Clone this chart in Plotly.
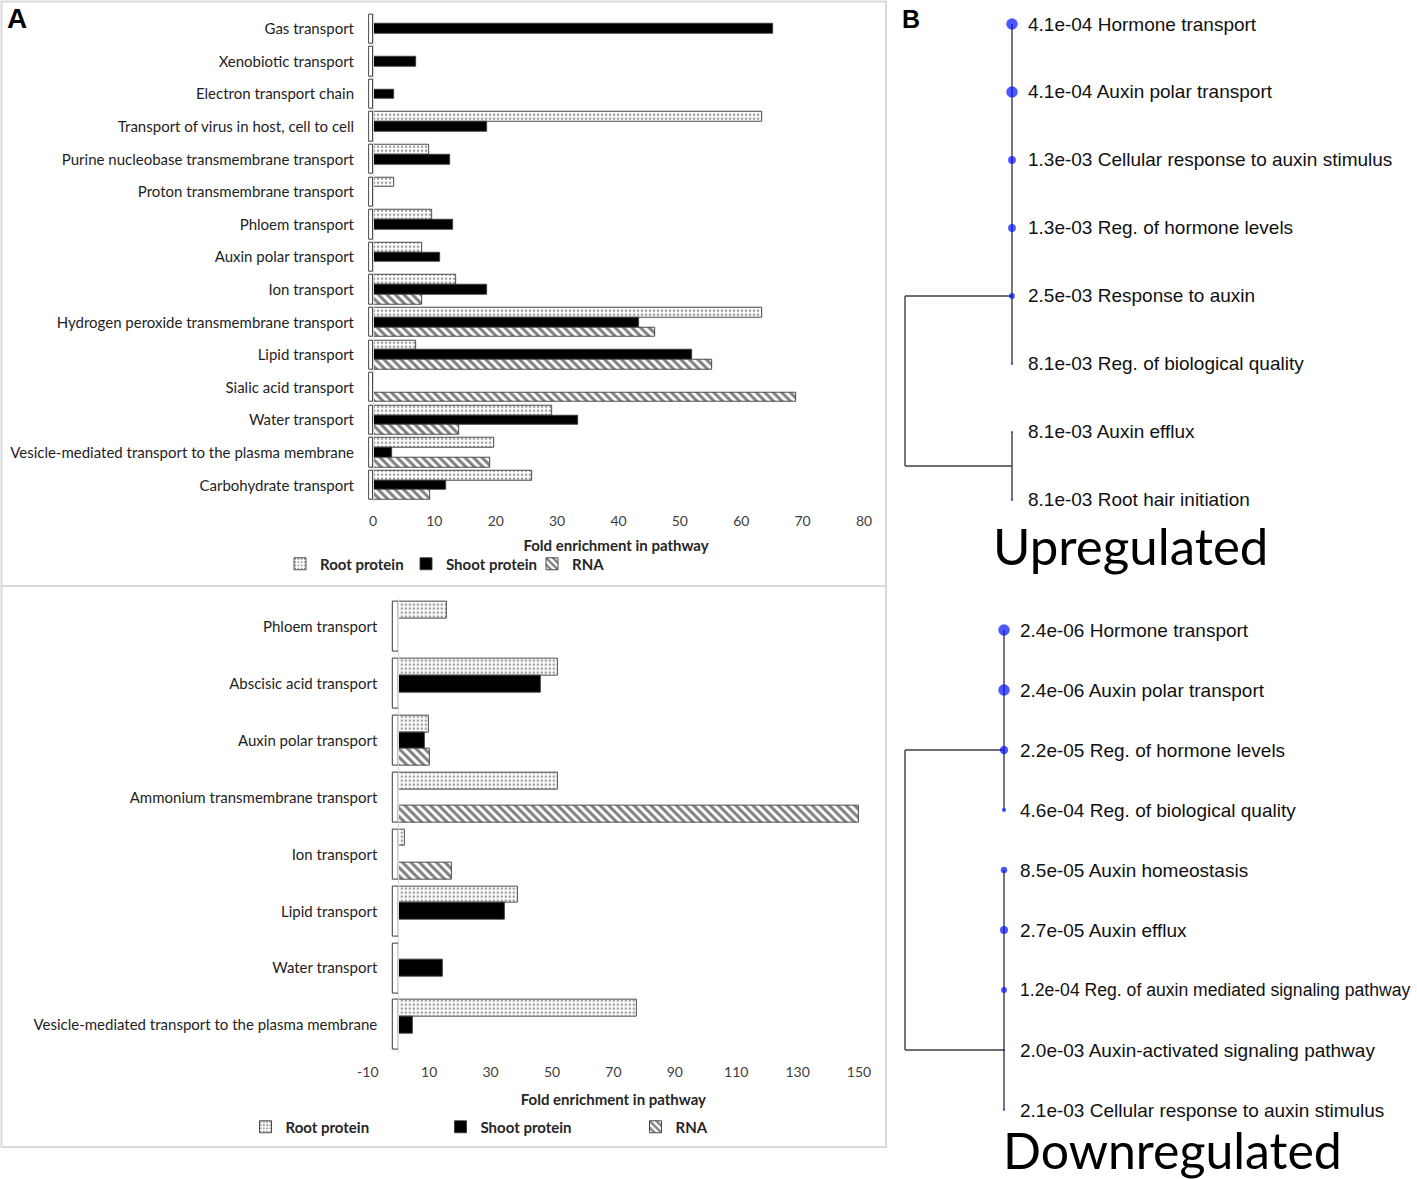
import math
import plotly.graph_objects as go

W, H = 1417, 1179

# ---------------- Panel A, upper chart ----------------
top_categories = [
    "Gas transport", "Xenobiotic transport", "Electron transport chain",
    "Transport of virus in host, cell to cell", "Purine nucleobase transmembrane transport",
    "Proton transmembrane transport", "Phloem transport", "Auxin polar transport",
    "Ion transport", "Hydrogen peroxide transmembrane transport", "Lipid transport",
    "Sialic acid transport", "Water transport",
    "Vesicle-mediated transport to the plasma membrane", "Carbohydrate transport",
]
top_root = [None, None, None, 63.4, 9.1, 3.5, 9.6, 8.0, 13.6, 63.4, 7.0, None, 29.2, 19.7, 26.0]
top_shoot = [65.2, 7.1, 3.4, 18.6, 12.5, None, 13.0, 11.0, 18.6, 43.4, 52.0, None, 33.4, 3.1, 11.9]
top_rna = [None, None, None, None, None, None, None, None, 8.0, 46.0, 55.2, 69.0, 14.1, 19.1, 9.3]
top_ticks = [0, 10, 20, 30, 40, 50, 60, 70, 80]
TOP_SPACER = -0.6  # small white outlined bar drawn left of zero in every category

# ---------------- Panel A, lower chart ----------------
bot_categories = [
    "Phloem transport", "Abscisic acid transport", "Auxin polar transport",
    "Ammonium transmembrane transport", "Ion transport", "Lipid transport",
    "Water transport", "Vesicle-mediated transport to the plasma membrane",
]
bot_root = [15.6, 51.8, 9.8, 51.8, 2.1, 39.0, None, 77.7]
bot_shoot = [None, 46.3, 8.7, None, None, 34.6, 14.3, 4.5]
bot_rna = [None, None, 10.1, 150.0, 17.3, None, None, None]
bot_ticks = [-10, 10, 30, 50, 70, 90, 110, 130, 150]
BOT_SPACER = -1.8

series_names = ["Root protein", "Shoot protein", "RNA"]

# ---------------- Panel B ----------------
up_terms = ["Hormone transport", "Auxin polar transport", "Cellular response to auxin stimulus",
            "Reg. of hormone levels", "Response to auxin", "Reg. of biological quality",
            "Auxin efflux", "Root hair initiation"]
up_pvals = [4.1e-4, 4.1e-4, 1.3e-3, 1.3e-3, 2.5e-3, 8.1e-3, 8.1e-3, 8.1e-3]
up_cluster = [0, 0, 0, 0, 0, 0, 1, 1]
up_join_rows = [4, 6.5]

down_terms = ["Hormone transport", "Auxin polar transport", "Reg. of hormone levels",
              "Reg. of biological quality", "Auxin homeostasis", "Auxin efflux",
              "Reg. of auxin mediated signaling pathway", "Auxin-activated signaling pathway",
              "Cellular response to auxin stimulus"]
down_pvals = [2.4e-6, 2.4e-6, 2.2e-5, 4.6e-4, 8.5e-5, 2.7e-5, 1.2e-4, 2.0e-3, 2.1e-3]
down_cluster = [0, 0, 0, 0, 1, 1, 1, 1, 1]
down_join_rows = [2, 7]

# ---------------- styles ----------------
FONT_A = "Lato, 'Open Sans', sans-serif"
FONT_B = "'Liberation Sans', Arial, sans-serif"
OUTLINE = dict(color="#3a3a3a", width=0.9)
styles = [
    dict(color="white", line=OUTLINE,
         pattern=dict(shape=".", fgcolor="#333333", bgcolor="white", size=4, solidity=0.3)),
    dict(color="black", line=OUTLINE),
    dict(color="white", line=OUTLINE,
         pattern=dict(shape="\\", fgcolor="black", bgcolor="white", size=6, solidity=0.5)),
]
LABEL_SIZE = 19
LONG_LABEL_SIZE = 17.6   # the one label that would run past the page edge
LABEL_MAXCHARS = 45


def px_x(p):
    return p / W


def px_y(p):
    return 1 - p / H


fig = go.Figure()


def add_bar_panel(cats, series, spacer, xa, ya, legend, offsets, width):
    n = len(cats)
    fig.add_trace(go.Bar(
        y=cats, x=[spacer] * n, orientation="h", xaxis=xa, yaxis=ya,
        offset=offsets[0], width=width * 3,
        marker=dict(color="white", line=dict(color="#3a3a3a", width=1)),
        showlegend=False, hoverinfo="skip"))
    for name, vals, st, off in zip(series_names, series, styles, offsets):
        fig.add_trace(go.Bar(
            y=cats, x=vals, name=name, orientation="h", xaxis=xa, yaxis=ya,
            offset=off, width=width, marker=st, legend=legend))


add_bar_panel(top_categories, [top_root, top_shoot, top_rna], TOP_SPACER, "x", "y", "legend",
              [-0.45, -0.15, 0.15], 0.3)
add_bar_panel(bot_categories, [bot_root, bot_shoot, bot_rna], BOT_SPACER, "x2", "y2", "legend2",
              [-0.44, -0.1467, 0.1467], 0.2933)


# ---------------- dendrograms ----------------
def add_dendro(terms, pvals, cluster, joins, xa, ya):
    rows = list(range(len(terms)))
    lx, ly = [], []
    for c, jr in enumerate(joins):
        members = [r for r in rows if cluster[r] == c]
        lx += [0, 0, None]
        ly += [min(members), max(members), None]
        lx += [0, -1, None]
        ly += [jr, jr, None]
    lx += [-1, -1, None]
    ly += [joins[0], joins[-1], None]
    fig.add_trace(go.Scatter(x=lx, y=ly, mode="lines", xaxis=xa, yaxis=ya,
                             line=dict(color="#3c3c44", width=1.4), showlegend=False,
                             hoverinfo="skip"))
    s = [-math.log10(p) for p in pvals]
    smin, smax = min(s), max(s)
    sizes = [2 + 9.5 * (v - smin) / (smax - smin) for v in s]
    fig.add_trace(go.Scatter(x=[0] * len(terms), y=rows, mode="markers", xaxis=xa, yaxis=ya,
                             marker=dict(color="#0010ff", size=sizes, line=dict(width=0)),
                             showlegend=False, hoverinfo="skip"))
    for r, (t, p) in enumerate(zip(terms, pvals)):
        txt = f"{p:.1e} {t}"
        size = LABEL_SIZE if len(txt) <= LABEL_MAXCHARS else LONG_LABEL_SIZE
        fig.add_annotation(x=0, y=r, xref=xa, yref=ya, text=txt, borderpad=0,
                           showarrow=False, xanchor="left", yanchor="middle", xshift=15,
                           font=dict(family=FONT_B, size=size, color="#111111"))


add_dendro(up_terms, up_pvals, up_cluster, up_join_rows, "x3", "y3")
add_dendro(down_terms, down_pvals, down_cluster, down_join_rows, "x4", "y4")

# ---------------- layout ----------------
tickfont = dict(family=FONT_A, size=14, color="#404040")
catfont = dict(family=FONT_A, size=15, color="#1e1e1e")
titlefont = dict(family=FONT_A, size=15, color="#262626", weight="bold")
legfont = dict(family=FONT_A, size=15, color="#262626", weight="bold")

hidden = dict(visible=False, showgrid=False, zeroline=False, automargin=False)

# downregulated rows: first at 630 px, spacing 60.0 px
d_top, d_bot = 600, 1130
d_r0, d_step = 630, 60.0

fig.update_layout(
    width=W, height=H, margin=dict(l=0, r=0, t=0, b=0, autoexpand=False),
    paper_bgcolor="white", plot_bgcolor="rgba(0,0,0,0)",
    barmode="overlay", bargap=0,
    xaxis=dict(domain=[px_x(368.1), px_x(864)], range=[-0.8, 80], tickvals=top_ticks,
               ticktext=[str(v) for v in top_ticks], automargin=False,
               showgrid=False, zeroline=False, showline=False, ticks="", anchor="y",
               tickfont=tickfont, ticklabelstandoff=9,
               title=dict(text="Fold enrichment in pathway", font=titlefont, standoff=12)),
    yaxis=dict(domain=[px_y(501.6), px_y(12.7)], type="category", categoryarray=top_categories,
               range=[14.5, -0.5], anchor="free", position=px_x(373), showgrid=False,
               automargin=False,
               zeroline=False, showline=True, linecolor="#d9d9d9", linewidth=1, ticks="",
               tickfont=catfont, ticklabelstandoff=16),
    xaxis2=dict(domain=[px_x(367.8), px_x(859)], range=[-10, 150], tickvals=bot_ticks,
                ticktext=[str(v) for v in bot_ticks], automargin=False,
                showgrid=False, zeroline=False, showline=False, ticks="", anchor="y2",
                tickfont=tickfont, ticklabelstandoff=9,
                title=dict(text="Fold enrichment in pathway", font=titlefont, standoff=15)),
    yaxis2=dict(domain=[px_y(1053.4), px_y(598.6)], type="category", categoryarray=bot_categories,
                range=[7.5, -0.5], anchor="free", position=px_x(398.3), showgrid=False,
                automargin=False,
                zeroline=False, showline=True, linecolor="#d9d9d9", linewidth=1, ticks="",
                tickfont=catfont, ticklabelstandoff=18),
    xaxis3=dict(domain=[px_x(890), 1.0], range=[-1.140, 3.785], anchor="y3", **hidden),
    yaxis3=dict(domain=[px_y(515), px_y(10)], range=[7.221, -0.206], anchor="x3", **hidden),
    xaxis4=dict(domain=[px_x(890), 1.0], range=[-1.1515, 4.1717], anchor="y4", **hidden),
    yaxis4=dict(domain=[px_y(d_bot), px_y(d_top)],
                range=[(d_bot - d_r0) / d_step, (d_top - d_r0) / d_step], anchor="x4", **hidden),
    legend=dict(orientation="h", x=px_x(280), xanchor="left", y=px_y(564), yanchor="middle",
                font=legfont, itemwidth=30, entrywidth=81, entrywidthmode="pixels",
                bgcolor="rgba(0,0,0,0)", traceorder="normal"),
    legend2=dict(orientation="h", x=px_x(538), xanchor="center", y=px_y(1127), yanchor="middle",
                 font=legfont, itemwidth=30, entrywidth=150, entrywidthmode="pixels",
                 bgcolor="rgba(0,0,0,0)", traceorder="normal"),
    shapes=[
        dict(type="rect", xref="paper", yref="paper", x0=px_x(1.5), x1=px_x(886), y0=px_y(586),
             y1=px_y(1.5), line=dict(color="#d9d9d9", width=2), layer="below"),
        dict(type="rect", xref="paper", yref="paper", x0=px_x(1.5), x1=px_x(886), y0=px_y(1147),
             y1=px_y(586), line=dict(color="#d9d9d9", width=2), layer="below"),
    ],
)

fig.add_annotation(x=px_x(5), y=px_y(19), xref="paper", yref="paper", text="<b>A</b>",
                   showarrow=False, xanchor="left", yanchor="middle",
                   font=dict(family=FONT_B, size=28, color="black"))
fig.add_annotation(x=px_x(900), y=px_y(19), xref="paper", yref="paper", text="<b>B</b>",
                   showarrow=False, xanchor="left", yanchor="middle",
                   font=dict(family=FONT_B, size=25, color="black"))
fig.add_annotation(x=px_x(1130), y=px_y(545), xref="paper", yref="paper", text="Upregulated",
                   showarrow=False, xanchor="center", yanchor="middle",
                   font=dict(family=FONT_A, size=51, color="black"))
fig.add_annotation(x=px_x(1172), y=px_y(1150), xref="paper", yref="paper", text="Downregulated",
                   showarrow=False, xanchor="center", yanchor="middle", borderpad=0,
                   font=dict(family=FONT_A, size=50, color="black"))

fig.write_html(
    "out.html", config={"displayModeBar": False},
    post_script=("document.documentElement.style.margin='0';"
                 "document.documentElement.style.overflow='hidden';"
                 "document.body.style.margin='0';document.body.style.padding='0';"
                 "document.body.style.overflow='hidden';"))
